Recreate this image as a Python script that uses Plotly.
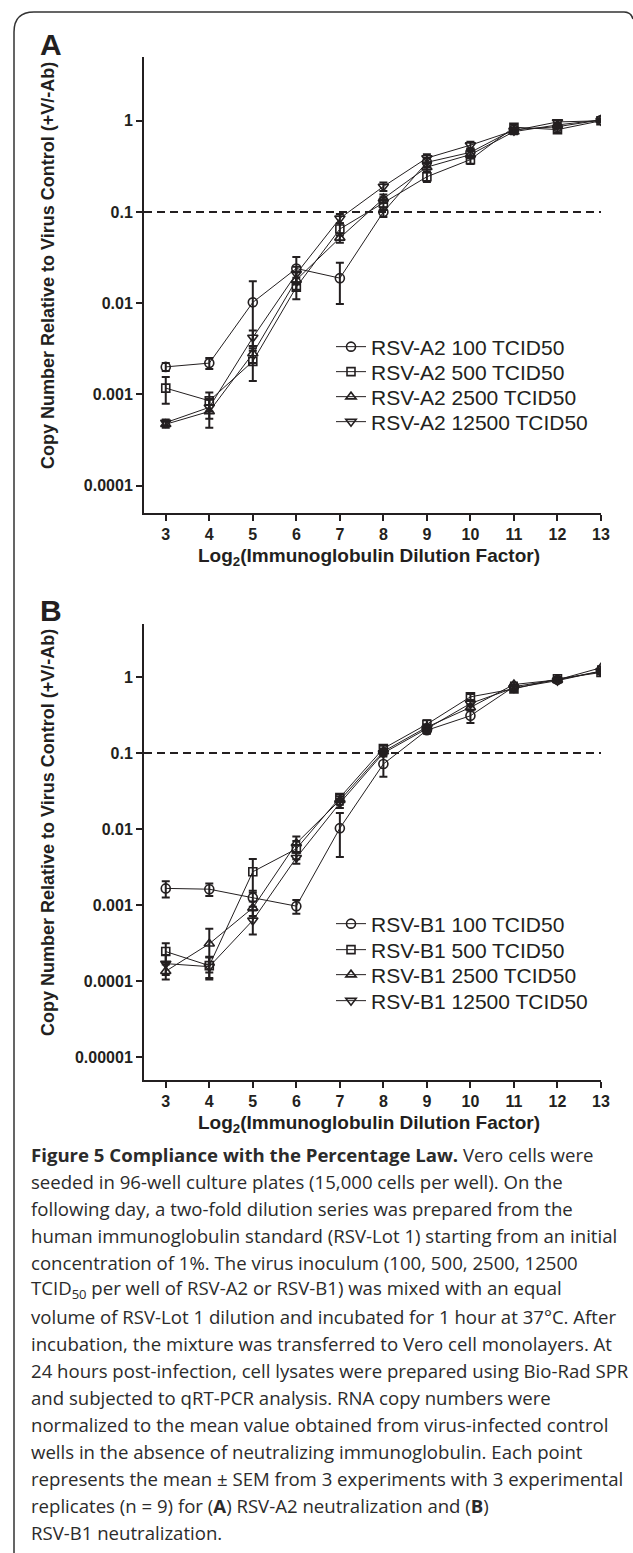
import numpy as np
import plotly.graph_objects as go

W, H = 633, 1553

# ---------------- data ----------------
dilution = [3, 4, 5, 6, 7, 8, 9, 10, 11, 12, 13]
x_tick_labels = ["3", "4", "5", "6", "7", "8", "9", "10", "11", "12", "13"]
doses = ["100", "500", "2500", "12500"]
threshold = 0.1

a_100 = [0.0020, 0.0022, 0.0102, 0.024, 0.0188, 0.10, 0.35, 0.45, 0.80, 0.86, 1.02]
a_100_err = [0.0002, 0.0003, 0.0072, 0.008, 0.0090, 0.012, 0.04, 0.05, 0.05, 0.04, 0.03]
a_500 = [0.00117, 0.00085, 0.0023, 0.015, 0.065, 0.125, 0.243, 0.375, 0.85, 0.80, 1.0]
a_500_err = [0.00038, 0.0002, 0.0009, 0.004, 0.010, 0.02, 0.03, 0.04, 0.06, 0.05, 0.03]
a_2500 = [0.00047, 0.00065, 0.0028, 0.018, 0.052, 0.14, 0.31, 0.425, 0.76, 0.90, 1.02]
a_2500_err = [0.00004, 0.00022, 0.0006, 0.004, 0.006, 0.015, 0.03, 0.04, 0.05, 0.05, 0.03]
a_12500 = [0.00049, 0.00072, 0.0042, 0.021, 0.085, 0.19, 0.39, 0.54, 0.78, 0.97, 1.0]
a_12500_err = [0.00004, 0.00018, 0.0008, 0.004, 0.010, 0.02, 0.04, 0.05, 0.05, 0.05, 0.03]

b_100 = [0.00166, 0.00162, 0.00125, 0.00097, 0.0103, 0.072, 0.20, 0.31, 0.75, 0.92, 1.2]
b_100_err = [0.0004, 0.0003, 0.0003, 0.0002, 0.006, 0.023, 0.02, 0.06, 0.05, 0.05, 0.06]
b_500 = [0.000245, 0.00016, 0.00275, 0.0055, 0.026, 0.115, 0.24, 0.55, 0.70, 0.95, 1.15]
b_500_err = [0.00007, 0.00005, 0.0013, 0.0015, 0.003, 0.01, 0.03, 0.05, 0.05, 0.05, 0.05]
b_2500 = [0.000135, 0.00031, 0.00092, 0.0065, 0.024, 0.105, 0.22, 0.40, 0.80, 0.92, 1.33]
b_2500_err = [0.00003, 0.00018, 0.0002, 0.0015, 0.003, 0.01, 0.02, 0.04, 0.05, 0.05, 0.06]
b_12500 = [0.00017, 0.000155, 0.00063, 0.0042, 0.022, 0.10, 0.21, 0.45, 0.72, 0.90, 1.2]
b_12500_err = [0.00005, 0.00005, 0.00022, 0.0007, 0.003, 0.01, 0.02, 0.04, 0.05, 0.05, 0.05]

a_tickvals = [1e-4, 1e-3, 1e-2, 1e-1, 1]
a_ticktext = ["0.0001", "0.001", "0.01", "0.1", "1"]
b_tickvals = [1e-5, 1e-4, 1e-3, 1e-2, 1e-1, 1]
b_ticktext = ["0.00001", "0.0001", "0.001", "0.01", "0.1", "1"]

caption_lines = [
    "<b>Figure 5 Compliance with the Percentage Law.</b> Vero cells were",
    "seeded in 96-well culture plates (15,000 cells per well). On the",
    "following day, a two-fold dilution series was prepared from the",
    "human immunoglobulin standard (RSV-Lot 1) starting from an initial",
    "concentration of 1%. The virus inoculum (100, 500, 2500, 12500",
    "TCID<sub>50</sub> per well of RSV-A2 or RSV-B1) was mixed with an equal",
    "volume of RSV-Lot 1 dilution and incubated for 1 hour at 37°C. After",
    "incubation, the mixture was transferred to Vero cell monolayers. At",
    "24 hours post-infection, cell lysates were prepared using Bio-Rad SPR",
    "and subjected to qRT-PCR analysis. RNA copy numbers were",
    "normalized to the mean value obtained from virus-infected control",
    "wells in the absence of neutralizing immunoglobulin. Each point",
    "represents the mean ± SEM from 3 experiments with 3 experimental",
    "replicates (n = 9) for (<b>A</b>) RSV-A2 neutralization and (<b>B</b>)",
    "RSV-B1 neutralization.",
]

# ---------------- helpers ----------------
def px(v):
    return v / W

def py(v):
    return 1 - v / H

INK = "#231f20"
symbols = ["circle-open", "square-open", "triangle-up-open", "triangle-down-open"]
msizes = [9, 8, 9, 9]
AX_FONT = dict(family="Liberation Sans, Arial", size=16, color=INK, weight="bold")
YTITLE_FONT = dict(family="Liberation Sans, Arial", size=18, color=INK, weight="bold")
XTITLE_FONT = dict(family="Liberation Sans, Arial", size=19, color=INK, weight="bold")
LEG_FONT = dict(family="Liberation Sans, Arial", size=21, color=INK)

x_left, x_right = 144, 601
A_top, A_bot = 57, 513
D = 567
B_top, B_bot = A_top + D, A_bot + D
x_range = [2.5, 13]

# legend row centres (pixels) for each panel
legend_rows = {"A": [347, 372, 397, 422], "B": [924, 950, 975, 1001]}
legend_left = 331

fig = go.Figure()

panels = [
    ("A", "x", "y", [a_100, a_500, a_2500, a_12500],
     [a_100_err, a_500_err, a_2500_err, a_12500_err], "RSV-A2"),
    ("B", "x2", "y2", [b_100, b_500, b_2500, b_12500],
     [b_100_err, b_500_err, b_2500_err, b_12500_err], "RSV-B1"),
]

legend_layout = {}
leg_idx = 0
for label, xa, ya, series, errs, virus in panels:
    fig.add_trace(go.Scatter(
        x=[x_range[0], dilution[-1]], y=[threshold, threshold], mode="lines",
        line=dict(color=INK, width=2, dash="8px,5px"), showlegend=False,
        hoverinfo="skip", xaxis=xa, yaxis=ya))
    for i, (vals, err) in enumerate(zip(series, errs)):
        leg_idx += 1
        leg_name = "legend" if leg_idx == 1 else f"legend{leg_idx}"
        legend_layout[leg_name] = dict(
            x=px(legend_left), y=py(legend_rows[label][i]), xanchor="left",
            yanchor="middle", font=LEG_FONT, bgcolor="rgba(0,0,0,0)",
            itemwidth=30, borderwidth=0)
        fig.add_trace(go.Scatter(
            x=dilution, y=vals, mode="lines+markers",
            name=f"{virus} {doses[i]} TCID50",
            line=dict(color=INK, width=1),
            marker=dict(symbol=symbols[i], size=msizes[i], color=INK,
                        line=dict(width=1.6, color=INK)),
            error_y=dict(type="data", array=err, color=INK, thickness=2, width=4),
            xaxis=xa, yaxis=ya, legend=leg_name))

common_x = dict(range=x_range, tickvals=dilution, ticktext=x_tick_labels,
                showline=True, linewidth=2, linecolor=INK, ticks="outside",
                ticklen=6, tickwidth=2, tickcolor=INK, showgrid=False,
                zeroline=False, tickfont=AX_FONT, automargin=False, fixedrange=True)
common_y = dict(type="log", showline=True, linewidth=2, linecolor=INK,
                ticks="outside", ticklen=6, tickwidth=2, tickcolor=INK,
                showgrid=False, zeroline=False, tickfont=AX_FONT,
                automargin=False, fixedrange=True)

fig.update_layout(
    width=W, height=H,
    margin=dict(l=0, r=0, t=0, b=0),
    paper_bgcolor="white", plot_bgcolor="rgba(0,0,0,0)",
    xaxis=dict(domain=[px(x_left), px(x_right)], anchor="y", **common_x),
    yaxis=dict(domain=[py(A_bot), py(A_top)], anchor="x",
               range=[np.log10(5e-5), np.log10(5)],
               tickvals=a_tickvals, ticktext=a_ticktext, **common_y),
    xaxis2=dict(domain=[px(x_left), px(x_right)], anchor="y2", **common_x),
    yaxis2=dict(domain=[py(B_bot), py(B_top)], anchor="x2",
                range=[np.log10(5e-6), np.log10(5)],
                tickvals=b_tickvals, ticktext=b_ticktext, **common_y),
    showlegend=True,
    **legend_layout,
)

annotations = []
for off, lab in [(0, "A"), (D, "B")]:
    annotations.append(dict(x=px(38), y=py(44 + off), xref="paper", yref="paper",
                            text=f"<b>{lab}</b>", showarrow=False,
                            xanchor="left", yanchor="middle",
                            font=dict(family="Liberation Sans, Arial", size=30, color=INK)))
    annotations.append(dict(x=px(48), y=py(266 + off), xref="paper", yref="paper",
                            text="Copy Number Relative to Virus Control (+V/-Ab)",
                            textangle=-90, showarrow=False,
                            xanchor="center", yanchor="middle", font=YTITLE_FONT))
    annotations.append(dict(x=px(369), y=py(557 + off), xref="paper", yref="paper",
                            text="Log<sub>2</sub>(Immunoglobulin Dilution Factor)",
                            showarrow=False, xanchor="center", yanchor="middle",
                            font=XTITLE_FONT))

cap_top, cap_step = 1154, 27
for i, line in enumerate(caption_lines):
    annotations.append(dict(x=px(29), y=py(cap_top + i * cap_step), xref="paper", yref="paper",
                            text=line, showarrow=False, xanchor="left", yanchor="middle",
                            font=dict(family="Open Sans", size=18.6, color="#2b2b2b")))

fig.update_layout(annotations=annotations)

border = (f"M {px(14)},{py(H)} L {px(14)},{py(32)} Q {px(14)},{py(12)} {px(34)},{py(12)} "
          f"L {px(624)},{py(12)} Q {px(631)},{py(12)} {px(633)},{py(19)}")
fig.add_shape(type="path", path=border, xref="paper", yref="paper",
              line=dict(color="#333333", width=1.5))

fig.write_html("out.html", config={"displayModeBar": False},
               post_script="document.body.style.margin='0px';")
